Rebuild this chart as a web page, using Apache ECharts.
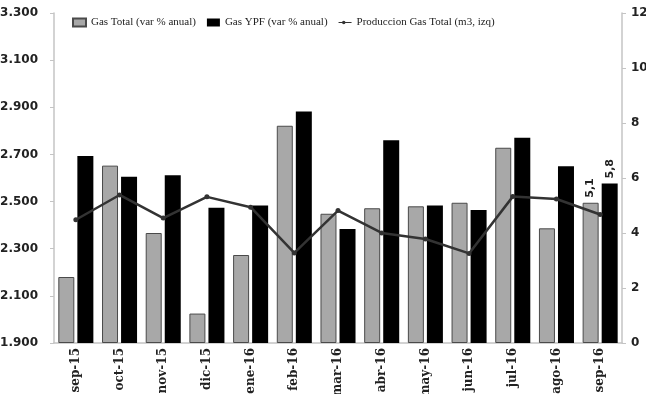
<!DOCTYPE html>
<html>
<head>
<meta charset="utf-8">
<script src="https://cdn.jsdelivr.net/npm/echarts@6/dist/echarts.min.js"></script>
<style>
  html, body { margin: 0; padding: 0; background: #fff; }
  #chart { width: 646px; height: 394px; }
</style>
</head>
<body>
<div id="chart"></div>
<script>
// Monthly categories
var months = ['sep-15', 'oct-15', 'nov-15', 'dic-15', 'ene-16', 'feb-16', 'mar-16',
              'abr-16', 'may-16', 'jun-16', 'jul-16', 'ago-16', 'sep-16'];

// Year-on-year change, % (right axis)
var gasTotalVar = [2.4, 6.45, 4.0, 1.07, 3.2, 7.9, 4.7, 4.9, 4.97, 5.1, 7.1, 4.17, 5.1];
var gasYpfVar   = [6.8, 6.05, 6.1, 4.92, 5.0, 8.42, 4.15, 7.37, 5.0, 4.84, 7.46, 6.43, 5.8];

// Total gas production, m3 (left axis)
var gasProduccion = [2423, 2528, 2430, 2520, 2476, 2282, 2462, 2367, 2341, 2280, 2521, 2511, 2445];

// Axis ticks
var leftTicks  = [1900, 2100, 2300, 2500, 2700, 2900, 3100, 3300];

// Months whose bar values are printed
var labelledMonths = ['sep-16'];

function withLabels(values) {
  return values.map(function (v, i) {
    return labelledMonths.indexOf(months[i]) >= 0 ? { value: v, label: { show: true } } : v;
  });
}

var chart = echarts.init(document.getElementById('chart'), null, { renderer: 'canvas' });

var barLabel = {
  show: false,
  position: 'top',
  rotate: 90,
  align: 'left',
  verticalAlign: 'middle',
  distance: 5,
  fontFamily: 'DejaVu Sans',
  fontWeight: 'bold',
  fontSize: 11,
  color: '#222',
  formatter: function (p) { return String(p.value).replace('.', ','); }
};

chart.setOption({
  animation: false,
  backgroundColor: '#fff',
  grid: { left: 54, right: 24, top: 13, bottom: 51, containLabel: false, outerBoundsMode: 'none' },
  legend: {
    top: 12,
    left: 67,
    itemWidth: 13,
    itemHeight: 8,
    itemGap: 11,
    textStyle: { fontFamily: 'Liberation Serif', fontSize: 11, color: '#222' },
    data: [
      { name: 'Gas Total (var % anual)', icon: 'rect' },
      { name: 'Gas YPF (var % anual)', icon: 'rect' },
      { name: 'Produccion Gas Total (m3, izq)', icon: 'path://M0,4 L30,4 L30,6 L0,6 Z M12,1 A4,4 0 1 1 12,9 A4,4 0 1 1 12,1 Z' }
    ]
  },
  xAxis: {
    type: 'category',
    data: months,
    axisLine: { lineStyle: { color: '#c4c4c4', width: 1.5 } },
    axisTick: { show: false },
    axisLabel: {
      rotate: 90,
      margin: 5,
      fontFamily: 'DejaVu Serif',
      fontWeight: 'bold',
      fontSize: 12,
      color: '#222'
    }
  },
  yAxis: [
    {
      type: 'value',
      min: 1900,
      max: 3300,
      position: 'left',
      splitLine: { show: false },
      axisLine: { show: true, lineStyle: { color: '#c4c4c4', width: 1.5 } },
      axisTick: { show: true, length: 4, lineStyle: { color: '#c4c4c4' }, customValues: leftTicks },
      axisLabel: {
        customValues: leftTicks,
        margin: 16,
        fontFamily: 'DejaVu Sans',
        fontWeight: 'bold',
        fontSize: 12,
        color: '#222',
        formatter: function (v) { return (v / 1000).toFixed(3); }
      }
    },
    {
      type: 'value',
      min: 0,
      max: 12,
      interval: 2,
      position: 'right',
      splitLine: { show: false },
      axisLine: { show: true, lineStyle: { color: '#c4c4c4', width: 1.5 } },
      axisTick: { show: true, length: 4, lineStyle: { color: '#c4c4c4' } },
      axisLabel: {
        margin: 9,
        fontFamily: 'DejaVu Sans',
        fontWeight: 'bold',
        fontSize: 12,
        color: '#222'
      }
    }
  ],
  series: [
    {
      name: 'Gas Total (var % anual)',
      type: 'bar',
      yAxisIndex: 1,
      barWidth: 16,
      barGap: '19%',
      itemStyle: { color: '#a8a8a8', borderColor: '#4a4a4a', borderWidth: 1 },
      label: barLabel,
      data: withLabels(gasTotalVar)
    },
    {
      name: 'Gas YPF (var % anual)',
      type: 'bar',
      yAxisIndex: 1,
      barWidth: 16,
      itemStyle: { color: '#000' },
      label: barLabel,
      data: withLabels(gasYpfVar)
    },
    {
      name: 'Produccion Gas Total (m3, izq)',
      type: 'line',
      yAxisIndex: 0,
      symbol: 'circle',
      symbolSize: 5,
      lineStyle: { color: '#333', width: 2.5 },
      itemStyle: { color: '#333' },
      data: gasProduccion
    }
  ]
});
</script>
</body>
</html>
